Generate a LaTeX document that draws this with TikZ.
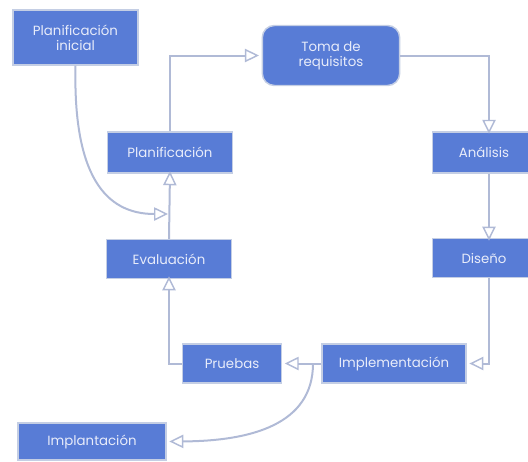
\documentclass[tikz,border=0pt]{standalone}
\usepackage{fontspec}
\setmainfont{Poppins}
\usetikzlibrary{arrows.meta}

\begin{document}
\begin{tikzpicture}[x=0.75pt,y=0.75pt,yscale=-1,xscale=1,
  box/.style={draw={rgb, 255:red, 196; green, 206; blue, 228 },line width=1.1,fill={rgb, 255:red, 88; green, 124; blue, 214 },
    text={rgb, 255:red, 232; green, 236; blue, 250 },font=\fontsize{10}{11.5}\selectfont,align=center,inner sep=0pt},
  link/.style={draw={rgb, 255:red, 176; green, 186; blue, 214 },line width=1.5,
    -{Triangle[open,length=10.5pt,width=10pt,line width=1.1pt]}}]
\useasboundingbox (0,0) rectangle (528,461);

%Shape: Rectangle [id:ini] 
\node [box,minimum width=94pt,minimum height=41pt] (ini) at (75.5,37.5) {Planificación\\inicial};
%Rounded Rect [id:toma] 
\node [box,rounded corners=9pt,minimum width=103pt,minimum height=45pt] (toma) at (331,55.5) {Toma de\\requisitos};
%Shape: Rectangle [id:plan] 
\node [box,minimum width=94pt,minimum height=31pt] (plan) at (170,152.5) {Planificación};
%Shape: Rectangle [id:eval] 
\node [box,minimum width=94pt,minimum height=29pt] (eval) at (169,259) {Evaluación};
%Shape: Rectangle [id:anal] 
\node [box,minimum width=77pt,minimum height=31pt] (anal) at (484,152.5) {Análisis};
%Shape: Rectangle [id:dis] 
\node [box,minimum width=77pt,minimum height=29pt] (dis) at (484,258) {Diseño};
%Shape: Rectangle [id:impl] 
\node [box,minimum width=108pt,minimum height=29pt] (impl) at (394,363.5) {Implementación};
%Shape: Rectangle [id:prue] 
\node [box,minimum width=74pt,minimum height=29pt] (prue) at (232,363.5) {Pruebas};
%Shape: Rectangle [id:impla] 
\node [box,minimum width=111pt,minimum height=28pt] (impla) at (92,441.5) {Implantación};

\coordinate (split) at (313,363.5);
\coordinate (join) at (168,214);

%Straight Lines 
\draw [link] (plan.north) |- ([xshift=-2pt]toma.west);
\draw [link] (toma.east) -| ([xshift=3.75pt,yshift=2pt]anal.north);
\draw [link] ([xshift=3.75pt]anal.south) -- ([xshift=3.75pt,yshift=2pt]dis.north);
\draw [link] ([xshift=3.75pt]dis.south) |- ([xshift=2pt]impl.east);
\draw [link] (impl.west) -- ([xshift=2pt]prue.east);
\draw [link] (prue.west) -| ([yshift=-2pt]eval.south);
\draw [link] (eval.north) -- ([yshift=-2pt]plan.south);
%Curve Lines 
\draw [link] (ini.south) .. controls (73,175) and (105,214) .. (join);
\draw [link] (split) .. controls (313,425) and (250,441) .. ([xshift=2pt]impla.east);

\end{tikzpicture}
\end{document}
